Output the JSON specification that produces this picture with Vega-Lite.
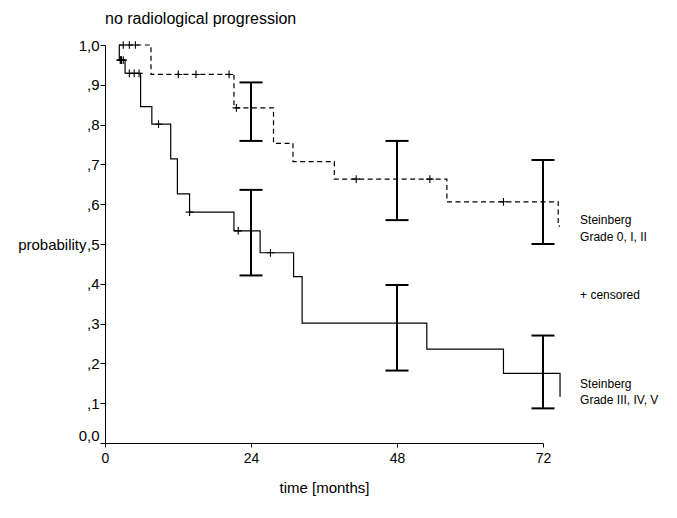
{
  "$schema": "https://vega.github.io/schema/vega-lite/v6.json",
  "width": 438,
  "height": 398,
  "autosize": {"type": "none"},
  "padding": {"left": 105, "top": 45, "right": 134, "bottom": 75},
  "background": "white",
  "config": {
    "view": {"stroke": null},
    "font": "Liberation Sans",
    "axis": {"domainColor": "black", "tickColor": "black", "labelColor": "black", "titleColor": "black", "grid": false, "titleFontWeight": "normal", "labelOverlap": false}
  },
  "title": {"text": "no radiological progression", "anchor": "start", "fontSize": 16, "fontWeight": "normal", "color": "black", "offset": 11, "frame": "group"},
  "datasets": {
    "curves": [
      {"group": "Grade 0, I, II", "i": 1, "t": 2.35, "p": 1.0},
      {"group": "Grade 0, I, II", "i": 2, "t": 7.56, "p": 0.926},
      {"group": "Grade 0, I, II", "i": 3, "t": 21.2, "p": 0.842},
      {"group": "Grade 0, I, II", "i": 4, "t": 27.7, "p": 0.753},
      {"group": "Grade 0, I, II", "i": 5, "t": 30.9, "p": 0.707},
      {"group": "Grade 0, I, II", "i": 6, "t": 37.7, "p": 0.663},
      {"group": "Grade 0, I, II", "i": 7, "t": 56.2, "p": 0.606},
      {"group": "Grade 0, I, II", "i": 8, "t": 74.5, "p": 0.545},
      {"group": "Grade 0, I, II", "i": 9, "t": 74.8, "p": 0.545},
      {"group": "Grade III, IV, V", "i": 1, "t": 2.3, "p": 1.0},
      {"group": "Grade III, IV, V", "i": 2, "t": 2.35, "p": 0.962},
      {"group": "Grade III, IV, V", "i": 3, "t": 3.3, "p": 0.929},
      {"group": "Grade III, IV, V", "i": 4, "t": 5.85, "p": 0.845},
      {"group": "Grade III, IV, V", "i": 5, "t": 7.7, "p": 0.801},
      {"group": "Grade III, IV, V", "i": 6, "t": 10.8, "p": 0.714},
      {"group": "Grade III, IV, V", "i": 7, "t": 11.9, "p": 0.626},
      {"group": "Grade III, IV, V", "i": 8, "t": 13.9, "p": 0.58},
      {"group": "Grade III, IV, V", "i": 9, "t": 21.2, "p": 0.533},
      {"group": "Grade III, IV, V", "i": 10, "t": 25.5, "p": 0.478},
      {"group": "Grade III, IV, V", "i": 11, "t": 31.0, "p": 0.418},
      {"group": "Grade III, IV, V", "i": 12, "t": 32.4, "p": 0.301},
      {"group": "Grade III, IV, V", "i": 13, "t": 52.9, "p": 0.236},
      {"group": "Grade III, IV, V", "i": 14, "t": 65.5, "p": 0.175},
      {"group": "Grade III, IV, V", "i": 15, "t": 74.8, "p": 0.116}
    ],
    "censored": [
      {"group": "Grade 0, I, II", "t": 3.0, "p": 1.0},
      {"group": "Grade 0, I, II", "t": 4.0, "p": 1.0},
      {"group": "Grade 0, I, II", "t": 5.0, "p": 1.0},
      {"group": "Grade 0, I, II", "t": 12.05, "p": 0.926},
      {"group": "Grade 0, I, II", "t": 14.95, "p": 0.926},
      {"group": "Grade 0, I, II", "t": 20.4, "p": 0.926},
      {"group": "Grade 0, I, II", "t": 21.6, "p": 0.842},
      {"group": "Grade 0, I, II", "t": 41.3, "p": 0.663},
      {"group": "Grade 0, I, II", "t": 53.4, "p": 0.663},
      {"group": "Grade 0, I, II", "t": 65.5, "p": 0.606},
      {"group": "Grade III, IV, V", "t": 2.5, "p": 0.962},
      {"group": "Grade III, IV, V", "t": 2.6, "p": 0.962},
      {"group": "Grade III, IV, V", "t": 2.7, "p": 0.962},
      {"group": "Grade III, IV, V", "t": 3.0, "p": 0.962},
      {"group": "Grade III, IV, V", "t": 4.0, "p": 0.929},
      {"group": "Grade III, IV, V", "t": 4.8, "p": 0.929},
      {"group": "Grade III, IV, V", "t": 5.6, "p": 0.929},
      {"group": "Grade III, IV, V", "t": 8.8, "p": 0.801},
      {"group": "Grade III, IV, V", "t": 13.9, "p": 0.58},
      {"group": "Grade III, IV, V", "t": 21.9, "p": 0.533},
      {"group": "Grade III, IV, V", "t": 27.2, "p": 0.478}
    ],
    "bars": [
      {"group": "Grade 0, I, II", "t": 24, "lo": 0.759, "hi": 0.906},
      {"group": "Grade III, IV, V", "t": 24, "lo": 0.421, "hi": 0.636},
      {"group": "Grade 0, I, II", "t": 48, "lo": 0.56, "hi": 0.759},
      {"group": "Grade III, IV, V", "t": 48, "lo": 0.182, "hi": 0.397},
      {"group": "Grade 0, I, II", "t": 72, "lo": 0.5, "hi": 0.711},
      {"group": "Grade III, IV, V", "t": 72, "lo": 0.087, "hi": 0.27}
    ],
    "notes": [
      {"label": "Steinberg", "t": 78.1, "p": 0.56},
      {"label": "Grade 0, I, II", "t": 78.1, "p": 0.517},
      {"label": "+ censored", "t": 78.1, "p": 0.372},
      {"label": "Steinberg", "t": 78.1, "p": 0.148},
      {"label": "Grade III, IV, V", "t": 78.1, "p": 0.108}
    ]
  },
  "encoding": {
    "x": {"type": "quantitative", "scale": {"domain": [0, 72], "nice": false},
      "axis": {"values": [0, 24, 48, 72], "title": "time [months]", "titleFontSize": 15, "titlePadding": 15, "labelFontSize": 14, "tickSize": 4, "labelPadding": 4, "labelFlush": false}},
    "y": {"type": "quantitative", "scale": {"domain": [0, 1], "nice": false, "zero": true},
      "axis": {"values": [0, 0.1, 0.2, 0.3, 0.4, 0.5, 0.6, 0.7, 0.8, 0.9, 1],
        "labelExpr": "datum.value == 1 ? '1,0' : (datum.value == 0 ? '0,0' : ',' + round(datum.value * 10))",
        "labelFontSize": 15, "tickSize": 5, "labelPadding": 1, "labelOverlap": false, "labelBound": false, "labelFlush": false,
        "labelBaseline": {"condition": {"test": "datum.value == 0", "value": "bottom"}, "value": "middle"},
        "title": "probability", "titleAngle": 0, "titleAlign": "right", "titleBaseline": "middle",
        "titleX": -19, "titleY": 199, "titleFontSize": 15}}
  },
  "layer": [
    {
      "data": {"name": "curves"},
      "mark": {"type": "line", "interpolate": "step-after", "color": "black", "strokeWidth": 1.2},
      "encoding": {
        "x": {"field": "t", "type": "quantitative"},
        "y": {"field": "p", "type": "quantitative"},
        "detail": {"field": "group"},
        "order": {"field": "i", "type": "quantitative"},
        "strokeDash": {"field": "group", "type": "nominal",
          "scale": {"domain": ["Grade 0, I, II", "Grade III, IV, V"], "range": [[5, 3.5], [1, 0]]}, "legend": null}
      }
    },
    {
      "data": {"name": "censored"},
      "mark": {"type": "point", "shape": "M-1,0L1,0M0,-1L0,1", "filled": false, "color": "black", "strokeWidth": 1.1, "size": 60, "opacity": 1},
      "encoding": {
        "x": {"field": "t", "type": "quantitative"},
        "y": {"field": "p", "type": "quantitative"}
      }
    },
    {
      "data": {"name": "bars"},
      "mark": {"type": "rule", "color": "black", "strokeWidth": 2},
      "encoding": {
        "x": {"field": "t", "type": "quantitative"},
        "y": {"field": "lo", "type": "quantitative"},
        "y2": {"field": "hi"}
      }
    },
    {
      "data": {"name": "bars"},
      "mark": {"type": "tick", "orient": "horizontal", "color": "black", "thickness": 2, "size": 23, "opacity": 1},
      "encoding": {
        "x": {"field": "t", "type": "quantitative"},
        "y": {"field": "lo", "type": "quantitative"}
      }
    },
    {
      "data": {"name": "bars"},
      "mark": {"type": "tick", "orient": "horizontal", "color": "black", "thickness": 2, "size": 23, "opacity": 1},
      "encoding": {
        "x": {"field": "t", "type": "quantitative"},
        "y": {"field": "hi", "type": "quantitative"}
      }
    },
    {
      "data": {"name": "notes"},
      "mark": {"type": "text", "align": "left", "baseline": "middle", "fontSize": 12, "color": "black"},
      "encoding": {
        "x": {"field": "t", "type": "quantitative"},
        "y": {"field": "p", "type": "quantitative"},
        "text": {"field": "label"}
      }
    }
  ]
}
